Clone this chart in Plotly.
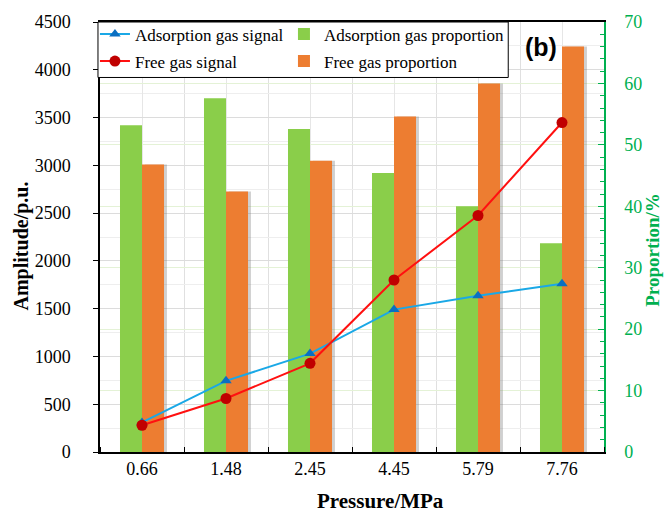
import plotly.graph_objects as go

pressure = ["0.66", "1.48", "2.45", "4.45", "5.79", "7.76"]
ads_signal = [310, 745, 1030, 1490, 1635, 1760]
free_signal = [280, 560, 928, 1800, 2475, 3448]
ads_prop = [53.2, 57.6, 52.6, 45.4, 40.0, 34.0]
free_prop = [46.8, 42.4, 47.4, 54.6, 60.0, 66.0]

xpos = list(range(len(pressure)))
serif = "Liberation Serif, Times New Roman, serif"
green_txt = "#00B050"
bw = 0.262

fig = go.Figure()
# soft shadow behind the orange bars
fig.add_trace(go.Bar(x=xpos, y=free_prop, yaxis="y", width=bw, offset=0.035,
                     marker=dict(color="rgba(120,120,120,0.35)", line=dict(width=0)),
                     showlegend=False, hoverinfo="skip"))
fig.add_trace(go.Scatter(x=xpos, y=ads_signal, name="Adsorption gas signal", yaxis="y2",
                         legend="legend", legendgroup="a",
                         mode="lines+markers", line=dict(color="#1AA8E6", width=2),
                         marker=dict(symbol="triangle-up", size=10, color="#0A6FC2")))
fig.add_trace(go.Bar(x=xpos, y=ads_prop, name="Adsorption gas proportion", yaxis="y",
                     legend="legend2", legendgroup="c", width=bw, offset=-bw,
                     marker=dict(color="#8ACE4A", line=dict(width=0))))
fig.add_trace(go.Scatter(x=xpos, y=free_signal, name="Free gas signal", yaxis="y2",
                         legend="legend", legendgroup="b",
                         mode="lines+markers", line=dict(color="#FF1010", width=2),
                         marker=dict(symbol="circle", size=11, color="#C00000")))
fig.add_trace(go.Bar(x=xpos, y=free_prop, name="Free gas proportion", yaxis="y",
                     legend="legend2", legendgroup="d", width=bw, offset=0,
                     marker=dict(color="#ED7D31", line=dict(width=0))))

leg_common = dict(orientation="v", yanchor="top", xanchor="left",
                  bgcolor="rgba(0,0,0,0)", borderwidth=0,
                  font=dict(family=serif, size=17, color="black"),
                  tracegroupgap=2, itemwidth=30)

fig.update_layout(
    width=665, height=521,
    margin=dict(l=100, r=61, t=19, b=69),
    paper_bgcolor="white", plot_bgcolor="white",
    barmode="overlay",
    font=dict(family=serif, size=18, color="black"),
    showlegend=True,
    legend=dict(x=-0.01, y=1.013, **leg_common),
    legend2=dict(x=0.365, y=1.013, **leg_common),
    shapes=[dict(type="rect", xref="paper", yref="paper",
                 x0=-0.004, x1=0.810, y0=0.871, y1=1.0,
                 line=dict(color="black", width=1), fillcolor="white", layer="above")],
    xaxis=dict(range=[-0.5, 5.5], tickvals=xpos, ticktext=pressure,
               ticks="", showgrid=True, gridcolor="#E6E6E6", gridwidth=1,
               minor=dict(tick0=-0.5, dtick=1, ticks="inside", ticklen=5,
                          tickcolor="black", showgrid=True, gridcolor="#E0E0E0"),
               showline=True, linecolor="black", linewidth=1.5, mirror=True,
               zeroline=False,
               tickfont=dict(family=serif, size=18, color="black")),
    yaxis=dict(side="right", range=[0, 70], dtick=10,
               showline=True, linecolor=green_txt, linewidth=1.5,
               ticks="inside", ticklen=6, tickcolor=green_txt,
               minor=dict(dtick=2, ticks="inside", ticklen=4, tickcolor=green_txt,
                          showgrid=False),
               showgrid=True, gridcolor="#E4F2D6", zeroline=False,
               ticklabelstandoff=15,
               tickfont=dict(family=serif, size=18, color=green_txt)),
    yaxis2=dict(side="left", overlaying="y", range=[0, 4500], dtick=500,
                showline=True, linecolor="black", linewidth=1.5,
                ticks="outside", ticklen=5, tickcolor="black",
                showgrid=True, gridcolor="#DCDCDC",
                minor=dict(dtick=250, showgrid=True, gridcolor="#EEEEEE"),
                zeroline=False, ticklabelstandoff=19,
                tickfont=dict(family=serif, size=18, color="black")),
    annotations=[
        dict(text="<b>(b)</b>", x=0.875, y=0.942, xref="paper", yref="paper",
             xanchor="center", yanchor="middle", showarrow=False,
             font=dict(family="Liberation Sans, Arial, sans-serif", size=25, color="black")),
        dict(text="<b>Pressure/MPa</b>", x=0.556, y=-0.113, xref="paper", yref="paper",
             xanchor="center", yanchor="middle", showarrow=False,
             font=dict(family=serif, size=21, color="black")),
        dict(text="<b>Amplitude/p.u.</b>", x=-0.155, y=0.48, xref="paper", yref="paper",
             xanchor="center", yanchor="middle", showarrow=False, textangle=-90,
             font=dict(family=serif, size=20, color="black")),
        dict(text="<b>Proportion/%</b>", x=1.097, y=0.47, xref="paper", yref="paper",
             xanchor="center", yanchor="middle", showarrow=False, textangle=-90,
             font=dict(family=serif, size=19, color=green_txt)),
    ],
)

fig.write_html("out.html", post_script="document.body.style.margin='0';",
               config={"displayModeBar": False})
